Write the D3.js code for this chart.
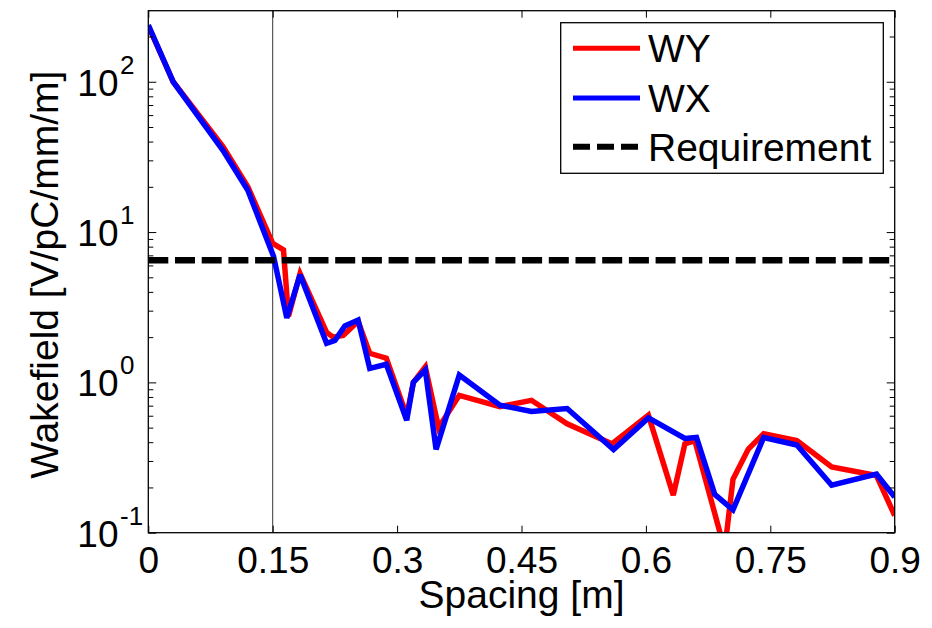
<!DOCTYPE html>
<html>
<head>
<meta charset="utf-8">
<script src="https://cdn.jsdelivr.net/npm/d3@7"></script>
<style>
  html, body { margin: 0; padding: 0; background: #fff; }
  svg { display: block; }
  text { font-family: "Liberation Sans", Arial, Helvetica, sans-serif; fill: #000; }
</style>
</head>
<body>
<svg id="chart" width="932" height="628"></svg>
<script>
// ---- data ----
const wyX = [0, 0.03, 0.09, 0.12, 0.15, 0.163, 0.169, 0.183, 0.215, 0.223, 0.235, 0.253, 0.267, 0.287, 0.3116, 0.3196, 0.334, 0.35, 0.375, 0.424, 0.462, 0.505, 0.559, 0.603, 0.633, 0.647, 0.659, 0.695, 0.705, 0.7235, 0.742, 0.782, 0.824, 0.878, 0.9];
const wyY = [235, 100, 37, 20, 8.4, 7.6, 2.75, 5.3, 2.15, 2.0, 2.05, 2.55, 1.56, 1.45, 0.6, 1.0, 1.27, 0.5, 0.82, 0.69, 0.76, 0.53, 0.39, 0.605, 0.178, 0.39, 0.41, 0.077, 0.227, 0.36, 0.455, 0.41, 0.274, 0.24, 0.13];
const wxX = [0, 0.03, 0.09, 0.12, 0.151, 0.167, 0.183, 0.215, 0.225, 0.237, 0.253, 0.267, 0.287, 0.3116, 0.3196, 0.334, 0.347, 0.375, 0.424, 0.462, 0.505, 0.561, 0.603, 0.647, 0.661, 0.683, 0.705, 0.742, 0.782, 0.824, 0.878, 0.9];
const wxY = [238, 100, 35, 19, 6.9, 2.68, 5.2, 1.82, 1.9, 2.37, 2.6, 1.24, 1.32, 0.56, 1.0, 1.21, 0.358, 1.12, 0.706, 0.64, 0.67, 0.357, 0.58, 0.424, 0.43, 0.18, 0.142, 0.43, 0.383, 0.207, 0.245, 0.173];
const requirement = 6.5;
const markerX = 0.15;
const xTicks = [0, 0.15, 0.3, 0.45, 0.6, 0.75, 0.9];
const xTickLabels = ["0", "0.15", "0.3", "0.45", "0.6", "0.75", "0.9"];
const yMajor = [0.1, 1, 10, 100];
const yExponents = ["-1", "0", "1", "2"];
const yMinor = [0.2,0.3,0.4,0.5,0.6,0.7,0.8,0.9, 2,3,4,5,6,7,8,9, 20,30,40,50,60,70,80,90, 200];
const legendNames = ["WY", "WX", "Requirement"];
const xLabel = "Spacing [m]";
const yLabel = "Wakefield [V/pC/mm/m]";

// ---- layout ----
const L = 148.3, R = 894.7, T = 10.7, B = 532.7;
const svg = d3.select("#chart");
const x = d3.scaleLinear().domain([0, 0.9]).range([L, R]);
const y = d3.scaleLog().domain([0.1, 297]).range([B, T]);

svg.append("defs").append("clipPath").attr("id", "clip")
  .append("rect").attr("x", L).attr("y", T).attr("width", R - L).attr("height", B - T);

// plot background
svg.append("rect").attr("x", L).attr("y", T).attr("width", R - L).attr("height", B - T).attr("fill", "#fff");

const plot = svg.append("g").attr("clip-path", "url(#clip)");

// vertical marker line
plot.append("line")
  .attr("x1", x(markerX)).attr("x2", x(markerX)).attr("y1", T).attr("y2", B)
  .attr("stroke", "#000").attr("stroke-width", 0.8);

const line = d3.line().x(d => x(d[0])).y(d => y(d[1]));

plot.append("path").datum(wyX.map((v, i) => [v, wyY[i]]))
  .attr("d", line).attr("fill", "none").attr("stroke", "#ff0000")
  .attr("stroke-width", 5.5).attr("stroke-linejoin", "miter").attr("stroke-miterlimit", 3);
plot.append("path").datum(wxX.map((v, i) => [v, wxY[i]]))
  .attr("d", line).attr("fill", "none").attr("stroke", "#0000ff")
  .attr("stroke-width", 5.5).attr("stroke-linejoin", "miter").attr("stroke-miterlimit", 3);

plot.append("line")
  .attr("x1", L).attr("x2", R).attr("y1", y(requirement)).attr("y2", y(requirement))
  .attr("stroke", "#000").attr("stroke-width", 6.5).attr("stroke-dasharray", "20,6.7");

// ---- axes ----
const tickFont = 37;
const xAxisB = d3.axisBottom(x).tickValues(xTicks).tickFormat((d, i) => xTickLabels[i])
  .tickSize(-7).tickPadding(14);
const gxb = svg.append("g").attr("transform", `translate(0,${B})`).call(xAxisB);
gxb.selectAll("text").attr("font-size", tickFont).attr("font-family", "Liberation Sans, Arial, sans-serif");
const gxt = svg.append("g").attr("transform", `translate(0,${T})`)
  .call(d3.axisTop(x).tickValues(xTicks).tickFormat("").tickSize(-7));

const gyl = svg.append("g").attr("transform", `translate(${L},0)`)
  .call(d3.axisLeft(y).tickValues(yMajor).tickFormat("").tickSize(-8));
const gylm = svg.append("g").attr("transform", `translate(${L},0)`)
  .call(d3.axisLeft(y).tickValues(yMinor).tickFormat("").tickSize(-5));
const gyr = svg.append("g").attr("transform", `translate(${R},0)`)
  .call(d3.axisRight(y).tickValues(yMajor).tickFormat("").tickSize(-8));
const gyrm = svg.append("g").attr("transform", `translate(${R},0)`)
  .call(d3.axisRight(y).tickValues(yMinor).tickFormat("").tickSize(-5));

[gxb, gxt, gyl, gylm, gyr, gyrm].forEach(g => {
  g.select(".domain").remove();
  g.selectAll("line").attr("stroke", "#000").attr("stroke-width", 1);
});

// axes box
svg.append("rect").attr("x", L).attr("y", T).attr("width", R - L).attr("height", B - T)
  .attr("fill", "none").attr("stroke", "#000").attr("stroke-width", 1.3);

// y tick labels 10^n
yMajor.forEach((v, i) => {
  const ty = y(v);
  svg.append("text").attr("x", 118.5).attr("y", ty + 14).attr("text-anchor", "end")
    .attr("font-size", tickFont).text("10");
  svg.append("text").attr("x", 120).attr("y", ty - 8).attr("text-anchor", "start")
    .attr("font-size", 26).text(yExponents[i]);
});

// axis labels
svg.append("text").attr("x", (L + R) / 2).attr("y", 608).attr("text-anchor", "middle")
  .attr("font-size", 39).text(xLabel);
svg.append("text").attr("transform", `translate(58,${(T + B) / 2 + 3}) rotate(-90)`)
  .attr("text-anchor", "middle").attr("font-size", 39).text(yLabel);

// ---- legend ----
const lg = svg.append("g");
lg.append("rect").attr("x", 560.7).attr("y", 22.7).attr("width", 322.6).attr("height", 150.6)
  .attr("fill", "#fff").attr("stroke", "#000").attr("stroke-width", 1.3);
const legendColors = ["#ff0000", "#0000ff", "#000"];
const legendRowY = [48.3, 98, 146.7];
legendNames.forEach((name, i) => {
  const ly = legendRowY[i];
  const ln = lg.append("line").attr("x1", 573).attr("x2", 640).attr("y1", ly).attr("y2", ly)
    .attr("stroke", legendColors[i]).attr("stroke-width", i === 2 ? 6 : 5);
  if (i === 2) ln.attr("stroke-dasharray", "17,7");
  lg.append("text").attr("x", 648).attr("y", ly + 14).attr("font-size", 39).text(name);
});
</script>
</body>
</html>
